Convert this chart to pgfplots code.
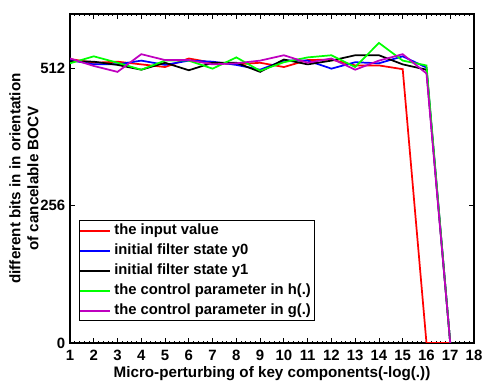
\documentclass[border=0pt]{standalone}
\usepackage{pgfplots}
\pgfplotsset{compat=1.18}
\usepackage{fontspec}
\setmainfont{Liberation Sans}
\definecolor{mred}{rgb}{1,0,0}
\definecolor{mblue}{rgb}{0,0,1}
\definecolor{mgreen}{rgb}{0,1,0}
\definecolor{mmag}{rgb}{0.75,0,0.75}
\begin{document}
\begin{tikzpicture}
\useasboundingbox (0pt,0pt) rectangle (363.75pt,285.75pt);
\begin{axis}[
  at={(52.5pt,28.5pt)}, anchor=south west,
  scale only axis, width=303pt, height=246.75pt,
  xmin=1, xmax=18, ymin=0, ymax=614,
  xtick={1,...,18}, ytick={0,256,512},
  minor x tick num=4,
  tick align=inside,
  major tick length=4pt, minor tick length=1.5pt,
  axis line style={line width=1.1pt},
  every tick/.style={black, line width=0.6pt},
  font=\fontsize{11.4}{13.5}\selectfont\bfseries,
  /pgf/number format/assume math mode=true,
  ticklabel style={font=\fontsize{11.2}{13}\selectfont\bfseries},
  xticklabel style={yshift=-2pt},
  xlabel={Micro-perturbing of key components(-log(.))},
  ylabel={different bits in in orientation\\of cancelable BOCV},
  xlabel style={at={(rel axis cs:0.5,0)}, anchor=center, yshift=-23pt},
  ylabel style={at={(rel axis cs:0,0.5)}, anchor=center, align=center, yshift=34.5pt},
  legend style={at={(rel axis cs:0.0223,0.0669)}, anchor=south west,
    fill=white, inner sep=0pt,
    row sep=0pt,
    nodes={text height=8.7pt, text depth=3pt, inner ysep=1.65pt, inner xsep=2.5pt,
      font=\fontsize{11.1}{13.5}\selectfont\bfseries}},
  legend cell align=left,
  legend image code/.code={\draw[#1] (8pt,0pt) -- (30.5pt,0pt);},
  legend image post style={line width=1.3pt},
  every axis plot/.append style={line width=1.3pt},
]
\addplot[mred] coordinates {(1,530)(2,523)(3,525)(4,520)(5,515)(6,531)(7,523)(8,520)(9,523)(10,515)(11,528)(12,529)(13,518)(14,518)(15,511)(16,0)(17,0)};
\addplot[mblue] coordinates {(1,528)(2,520)(3,520)(4,527)(5,519)(6,527)(7,525)(8,519)(9,510)(10,527)(11,527)(12,512)(13,524)(14,522)(15,535)(16,514)(17,0)};
\addplot[black] coordinates {(1,526)(2,525)(3,519)(4,510)(5,523)(6,509)(7,523)(8,523)(9,506)(10,529)(11,520)(12,527)(13,537)(14,537)(15,520)(16,510)(17,0)};
\addplot[mgreen] coordinates {(1,522)(2,535)(3,523)(4,510)(5,527)(6,527)(7,512)(8,533)(9,508)(10,524)(11,533)(12,537)(13,515)(14,560)(15,527)(16,518)(17,0)};
\addplot[mmag] coordinates {(1,531)(2,517)(3,506)(4,539)(5,528)(6,528)(7,520)(8,522)(9,527)(10,537)(11,523)(12,531)(13,510)(14,527)(15,539)(16,503)(17,0)};
\legend{the input value, initial filter state y0, initial filter state y1, the control parameter in h(.), the control parameter in g(.)}
\end{axis}
\end{tikzpicture}
\end{document}
